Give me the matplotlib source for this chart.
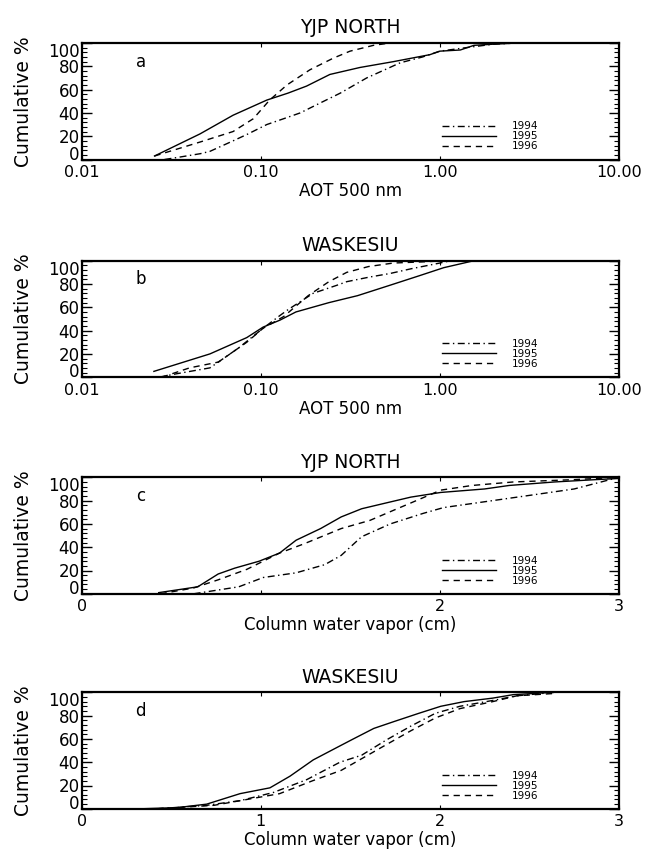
import numpy as np
import matplotlib
matplotlib.use('Agg')
import matplotlib.pyplot as plt
from matplotlib.ticker import FixedLocator, FixedFormatter, AutoMinorLocator

# --- data (x value, cumulative %) ---
years = ['1994', '1995', '1996']
dash_styles = [(0, (5, 2.5, 1, 2.5)), '-', (0, (4.5, 3.5))]

# a) YJP NORTH, AOT 500 nm
a94_x = [0.029, 0.035, 0.046, 0.052, 0.07, 0.085, 0.108, 0.14, 0.166, 0.205, 0.278, 0.39, 0.6, 0.8, 1.0, 1.4, 2.0, 2.7]
a94_y = [0, 2, 5, 7, 16, 22, 30, 36, 40, 47, 57, 70, 83, 88, 93, 96, 99, 100]
a95_x = [0.0255, 0.0458, 0.070, 0.108, 0.142, 0.180, 0.243, 0.358, 0.55, 0.88, 1.0, 1.3, 1.55, 2.0, 2.7]
a95_y = [3, 22, 38, 51, 57, 63, 73, 79, 84, 90, 93, 94, 98, 99, 100]
a96_x = [0.0255, 0.0458, 0.070, 0.0908, 0.112, 0.14, 0.188, 0.254, 0.315, 0.426, 0.5, 0.55]
a96_y = [3, 15, 24, 35, 51, 64, 77, 87, 93, 98, 99.5, 100]

# b) WASKESIU, AOT 500 nm
b94_x = [0.027, 0.034, 0.052, 0.075, 0.103, 0.128, 0.142, 0.196, 0.267, 0.302, 0.406, 0.526, 0.687, 1.0, 1.15]
b94_y = [0, 3, 8, 25, 42, 53, 58, 72, 79, 82, 86, 89, 93, 98, 100]
b95_x = [0.0253, 0.052, 0.0835, 0.103, 0.128, 0.157, 0.24, 0.347, 0.528, 0.764, 1.05, 1.55]
b95_y = [5, 20, 34, 43, 49, 56, 64, 70, 79, 87, 94, 100]
b96_x = [0.028, 0.040, 0.058, 0.0835, 0.103, 0.134, 0.184, 0.24, 0.302, 0.4, 0.55, 0.8, 1.1]
b96_y = [0, 8, 13, 30, 42, 52, 70, 82, 90, 95, 98, 99, 100]

# c) YJP NORTH, column water vapor
c94_x = [0.625, 0.877, 1.014, 1.197, 1.357, 1.449, 1.563, 1.723, 1.906, 2.02, 2.295, 2.524, 2.75, 2.9, 3.0]
c94_y = [0, 6, 14, 18, 25, 33, 49, 60, 69, 74, 80, 85, 90, 96, 100]
c95_x = [0.43, 0.648, 0.762, 0.854, 0.991, 1.105, 1.197, 1.334, 1.449, 1.563, 1.70, 1.838, 2.005, 2.25, 2.387, 2.64, 2.87, 3.0]
c95_y = [1, 6, 17, 22, 28, 35, 46, 56, 66, 73, 78, 83, 87, 90, 93, 96, 98, 99]
c96_x = [0.44, 0.625, 0.762, 0.922, 1.105, 1.243, 1.449, 1.609, 1.746, 1.838, 2.005, 2.18, 2.41, 2.75, 3.0]
c96_y = [0, 5, 12, 21, 35, 43, 56, 63, 72, 78, 89, 93, 96, 98, 100]

# d) WASKESIU, column water vapor
d94_x = [0.42, 0.698, 0.884, 1.07, 1.256, 1.442, 1.563, 1.70, 1.838, 1.975, 2.112, 2.295, 2.43, 2.64]
d94_y = [0, 3, 7, 14, 25, 40, 46, 59, 71, 82, 88, 93, 97, 100]
d95_x = [0.33, 0.533, 0.698, 0.884, 1.051, 1.163, 1.293, 1.442, 1.517, 1.631, 1.746, 1.883, 2.005, 2.135, 2.295, 2.41, 2.64]
d95_y = [0, 1, 4, 13, 18, 28, 42, 54, 60, 69, 75, 82, 88, 92, 95, 98, 100]
d96_x = [0.42, 0.739, 0.922, 1.105, 1.288, 1.449, 1.563, 1.70, 1.838, 1.975, 2.112, 2.295, 2.43, 2.64]
d96_y = [0, 3, 8, 13, 24, 33, 43, 55, 67, 78, 86, 92, 97, 99]

titles = ['YJP NORTH', 'WASKESIU', 'YJP NORTH', 'WASKESIU']
letters = ['a', 'b', 'c', 'd']
xlabels = ['AOT 500 nm', 'AOT 500 nm', 'Column water vapor (cm)', 'Column water vapor (cm)']
panels = [
    [(a94_x, a94_y), (a95_x, a95_y), (a96_x, a96_y)],
    [(b94_x, b94_y), (b95_x, b95_y), (b96_x, b96_y)],
    [(c94_x, c94_y), (c95_x, c95_y), (c96_x, c96_y)],
    [(d94_x, d94_y), (d95_x, d95_y), (d96_x, d96_y)],
]

aot_ticks = [0.01, 0.1, 1.0, 10.0]
aot_labels = ['0.01', '0.10', '1.00', '10.00']
wv_ticks = [0, 1, 2, 3]
wv_labels_c = ['0', '', '2', '3']
wv_labels_d = ['0', '1', '2', '3']

fig = plt.figure(figsize=(6.45, 8.58), dpi=100)

# axes boxes in figure pixels (top edge), same height for all
tops = [43, 260.7, 477.3, 692.3]
height = 116.5
left, right = 81.7, 619

for i in range(4):
    top = tops[i]
    ax = fig.add_axes([left / 645, 1 - (top + height) / 858, (right - left) / 645, height / 858])
    for (x, y), ls, yr in zip(panels[i], dash_styles, years):
        ax.plot(x, y, ls=ls, color='black', lw=1.0, label=yr)

    if i < 2:
        ax.set_xscale('log')
        ax.set_xlim(0.01, 10)
        ax.xaxis.set_major_locator(FixedLocator(aot_ticks))
        ax.xaxis.set_major_formatter(FixedFormatter(aot_labels))
        ax.xaxis.set_minor_locator(FixedLocator([]))
    else:
        ax.set_xlim(0, 3)
        ax.xaxis.set_major_locator(FixedLocator(wv_ticks))
        ax.xaxis.set_major_formatter(FixedFormatter(wv_labels_c if i == 2 else wv_labels_d))

    ax.set_ylim(0, 100)
    ax.set_yticks([0, 20, 40, 60, 80, 100])
    ax.yaxis.set_minor_locator(AutoMinorLocator(5))
    ax.tick_params(axis='y', which='major', direction='in', length=7, width=1.0,
                   left=True, right=True, labelsize=12, pad=1.5)
    ax.tick_params(axis='y', which='minor', direction='in', length=3.5, width=0.8,
                   left=True, right=True)
    ax.tick_params(axis='x', which='major', direction='in', length=3, width=0.8,
                   top=True, bottom=True, labelsize=11.5, pad=4)
    # end labels sit inside the box, as in the original
    ylabs = ax.get_yticklabels()
    ylabs[0].set_va('baseline')
    ylabs[-1].set_va('top')
    for s in ax.spines.values():
        s.set_linewidth(1.6)

    ax.set_title(titles[i], fontsize=13.5, pad=7)
    ax.set_xlabel(xlabels[i], fontsize=12, labelpad=1.5)
    ax.set_ylabel('Cumulative %', fontsize=13.5, labelpad=11)
    ax.text(0.11, 0.84, letters[i], transform=ax.transAxes, fontsize=12, ha='center', va='center')
    ax.legend(loc='lower left', bbox_to_anchor=(0.6705, 0.07), frameon=False, fontsize=7.5,
              handlelength=5.2, handletextpad=1.5, labelspacing=0.0, borderpad=0.0,
              borderaxespad=0.0)

fig.savefig('out.png', dpi=100)
